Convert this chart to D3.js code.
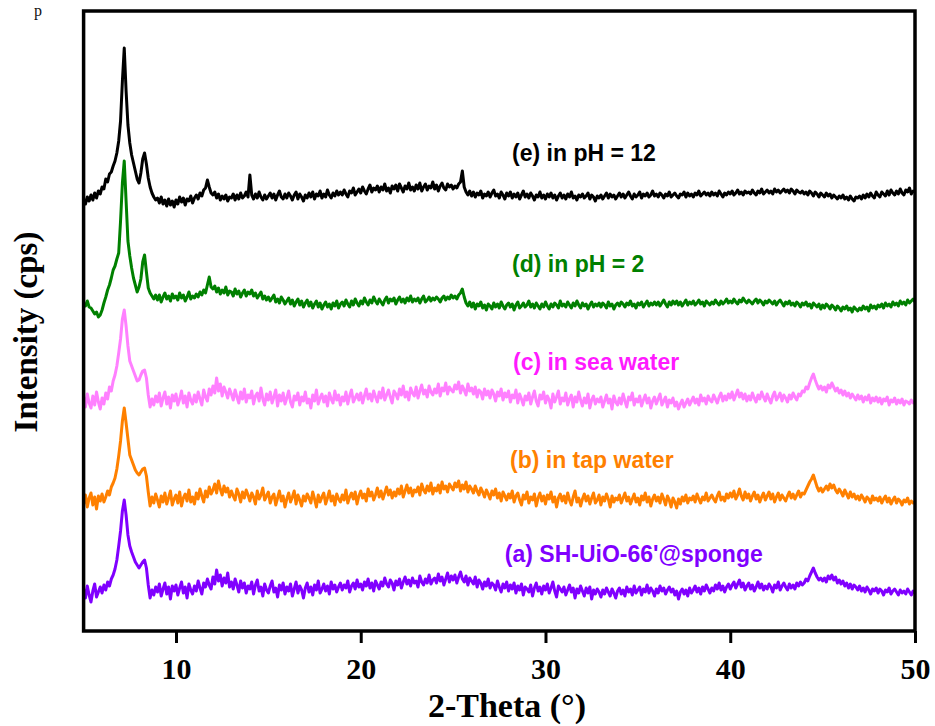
<!DOCTYPE html>
<html>
<head>
<meta charset="utf-8">
<script src="https://cdn.jsdelivr.net/npm/d3@7"></script>
<style>
  body { margin: 0; background: #fff; }
  svg { display: block; }
</style>
</head>
<body>
<svg id="chart" width="935" height="726"></svg>
<script>
// Scan grid: 2θ from 5.0° to 50.0° in 0.1° steps (451 points per pattern)
const thetaStart = 5.0;
const thetaStep = 0.1;
const xTicks = [10, 20, 30, 40, 50];

const seriesLabels = ["(a) SH-UiO-66'@sponge", "(b) in tap water", "(c) in sea water", "(d) in pH = 2", "(e) in pH = 12"];
// vertical stacking offset of each pattern (same units as intensity)
const seriesOffsets = [30, 120, 220, 320, 430];

// (a) SH-UiO-66'@sponge
const intensityA = [
  12, 3, 15, 6, -1, 10, 17, 4, 9, 14,
  8, 16, 11, 19, 15, 22, 26, 32, 41, 55,
  70, 90, 101, 86, 66, 55, 49, 44, 39, 36,
  33, 36, 39, 41, 33, 16, 3, 11, 6, 14,
  9, 17, 5, 12, 18, 7, 14, 2, 15, 10,
  16, 6, 13, 19, 8, 14, 3, 17, 11, 7,
  15, 10, 20, 13, 7, 18, 14, 22, 16, 12,
  24, 17, 31, 20, 26, 15, 23, 18, 28, 14,
  19, 12, 22, 16, 9, 20, 13, 18, 8, 15,
  12, 19, 7, 16, 21, 10, 14, 5, 17, 11,
  8, 15, 20, 9, 13, 4, 16, 11, 18, 7,
  14, 10, 17, 5, 12, 19, 8, 15, 11, 3,
  13, 18, 9, 14, 6, 16, 11, 20, 8, 12,
  17, 10, 15, 7, 19, 12, 16, 9, 14, 18,
  11, 16, 13, 20, 9, 15, 18, 12, 21, 14,
  17, 11, 19, 15, 22, 13, 18, 10, 20, 16,
  12, 19, 15, 23, 17, 14, 21, 18, 11, 20,
  16, 22, 13, 19, 24, 17, 21, 15, 23, 18,
  20, 14, 25, 19, 16, 22, 18, 26, 17, 21,
  23, 18, 27, 20, 24, 16, 22, 28, 19, 25,
  21, 26, 18, 24, 29, 22, 19, 25, 16, 23,
  20, 17, 24, 14, 21, 18, 12, 19, 15, 22,
  13, 18, 16, 11, 20, 14, 9, 17, 13, 19,
  10, 16, 12, 18, 8, 15, 11, 17, 6, 14,
  12, 9, 16, 5, 13, 18, 10, 14, 7, 15,
  11, 17, 8, 13, 19, 10, 4, 15, 12, 9,
  14, 6, 11, 16, 9, 13, 3, 12, 8, 15,
  10, 5, 13, 8, 14, 2, 11, 7, 12, 9,
  4, 11, 7, 13, 9, 5, 12, 8, 3, 10,
  13, 7, 11, 5, 14, 9, 12, 6, 15, 8,
  11, 14, 6, 12, 9, 16, 8, 13, 10, 5,
  12, 8, 15, 10, 13, 7, 11, 14, 9, 12,
  6, 10, 2, 9, 12, 7, 11, 5, 13, 8,
  11, 15, 9, 13, 7, 14, 10, 16, 12, 8,
  13, 10, 16, 12, 18, 11, 15, 9, 14, 17,
  12, 16, 19, 13, 17, 21, 14, 18, 11, 15,
  18, 12, 16, 10, 14, 19, 13, 17, 11, 15,
  12, 17, 14, 9, 16, 13, 19, 11, 15, 18,
  14, 11, 17, 13, 16, 12, 18, 15, 19, 16,
  18, 22, 20, 25, 29, 33, 28, 24, 21, 23,
  20, 23, 19, 25, 22, 26, 21, 24, 18, 21,
  17, 20, 15, 18, 13, 17, 12, 16, 14, 11,
  15, 10, 13, 9, 14, 11, 7, 12, 10, 13,
  8, 12, 10, 6, 11, 9, 13, 7, 10, 12,
  9, 6, 11, 8, 10, 7, 12, 9, 6, 10,
  8
];

// (b) in tap water
const intensityB = [
  7, 16, 4, 13, 18, 6, 14, 2, 15, 10,
  17, 9, 14, 20, 16, 24, 28, 33, 42, 55,
  70, 90, 103, 88, 72, 56, 51, 46, 41, 38,
  36, 39, 42, 43, 35, 19, 5, 14, 8, 17,
  11, 4, 15, 9, 18, 7, 13, 20, 6, 12,
  16, 8, 19, 5, 13, 17, 10, 21, 9, 14,
  7, 18, 12, 22, 15, 9, 20, 14, 24, 17,
  21, 27, 18, 30, 22, 16, 25, 19, 23, 14,
  20, 15, 11, 22, 17, 9, 19, 13, 21, 16,
  10, 18, 14, 7, 20, 12, 16, 23, 11, 15,
  19, 8, 14, 17, 6, 13, 20, 10, 15, 4,
  12, 18, 9, 14, 20, 7, 16, 11, 5, 15,
  10, 17, 13, 8, 19, 12, 4, 16, 9, 14,
  18, 7, 13, 20, 10, 15, 6, 17, 12, 9,
  16, 11, 21, 8, 14, 18, 12, 19, 7, 15,
  20, 13, 17, 10, 22, 15, 19, 11, 16, 23,
  14, 20, 12, 18, 24, 16, 21, 13, 19, 15,
  22, 17, 25, 14, 20, 26, 18, 23, 15, 21,
  19, 24, 16, 27, 21, 18, 25, 20, 28, 17,
  23, 20, 26, 18, 29, 22, 25, 19, 27, 24,
  21, 28, 24, 30, 20, 26, 22, 29, 19, 25,
  22, 18, 25, 20, 16, 23, 19, 14, 21, 17,
  12, 20, 16, 22, 13, 18, 10, 19, 15, 11,
  17, 13, 20, 9, 15, 18, 11, 6, 16, 12,
  19, 8, 14, 11, 17, 5, 13, 18, 10, 15,
  7, 16, 12, 19, 9, 14, 4, 13, 17, 10,
  15, 8, 18, 11, 6, 14, 20, 9, 13, 5,
  12, 17, 10, 15, 7, 13, 18, 8, 11, 16,
  6, 14, 10, 17, 12, 4, 15, 9, 13, 11,
  16, 8, 13, 18, 10, 14, 7, 12, 17, 9,
  13, 6, 15, 11, 18, 9, 14, 5, 12, 16,
  10, 14, 8, 17, 12, 6, 15, 11, 4, 13,
  9, 3, 12, 7, 14, 10, 16, 8, 13, 11,
  15, 9, 17, 12, 8, 14, 11, 18, 10, 13,
  16, 12, 9, 15, 19, 11, 14, 10, 17, 13,
  18, 14, 20, 12, 16, 22, 15, 11, 19, 13,
  17, 10, 15, 19, 12, 16, 9, 14, 18, 11,
  15, 19, 12, 17, 9, 14, 18, 11, 16, 13,
  10, 15, 19, 13, 17, 12, 16, 20, 14, 18,
  17, 21, 25, 29, 32, 36, 30, 24, 20, 23,
  19, 22, 25, 21, 27, 23, 26, 21, 18, 22,
  19, 15, 21, 17, 13, 19, 14, 17, 12, 15,
  11, 16, 13, 9, 14, 12, 8, 15, 11, 13,
  10, 14, 8, 12, 15, 9, 13, 7, 11, 14,
  8, 12, 10, 6, 11, 9, 13, 7, 10, 8,
  9
];

// (c) in sea water
const intensityC = [
  14, 4, 17, 8, 3, 15, 6, 19, 9, 2,
  13, 7, 18, 12, 24, 20, 30, 36, 45, 58,
  72, 92, 101, 85, 65, 50, 45, 40, 35, 30,
  31, 36, 40, 41, 33, 16, 4, 12, 6, 15,
  9, 18, 5, 13, 19, 7, 14, 3, 16, 10,
  17, 6, 12, 20, 8, 15, 4, 18, 11, 7,
  16, 9, 19, 12, 6, 21, 14, 10, 22, 16,
  25, 18, 33, 20, 27, 15, 24, 19, 13, 22,
  17, 11, 21, 14, 8, 19, 12, 22, 9, 16,
  13, 20, 7, 15, 18, 10, 23, 12, 6, 17,
  11, 19, 8, 14, 21, 5, 16, 10, 18, 7,
  13, 20, 9, 4, 15, 11, 18, 6, 14, 10,
  19, 8, 12, 3, 16, 10, 21, 7, 13, 17,
  9, 15, 5, 18, 12, 8, 20, 11, 16, 6,
  14, 10, 19, 7, 15, 21, 9, 13, 17, 11,
  18, 8, 15, 22, 12, 17, 10, 20, 14, 9,
  19, 13, 23, 11, 16, 21, 14, 8, 20, 17,
  12, 22, 16, 25, 14, 19, 11, 23, 18, 15,
  24, 13, 20, 26, 17, 21, 14, 25, 19, 16,
  22, 18, 27, 15, 23, 20, 28, 17, 24, 21,
  19, 26, 22, 29, 18, 25, 21, 16, 27, 20,
  23, 17, 24, 14, 21, 19, 12, 22, 16, 20,
  13, 21, 17, 10, 19, 15, 22, 11, 18, 14,
  20, 9, 16, 13, 21, 8, 17, 12, 6, 15,
  11, 18, 7, 14, 20, 10, 5, 16, 12, 19,
  8, 15, 11, 3, 17, 9, 14, 20, 7, 13,
  10, 18, 6, 12, 16, 4, 14, 9, 19, 11,
  5, 13, 8, 17, 3, 11, 15, 7, 12, 9,
  14, 4, 10, 16, 8, 12, 2, 15, 9, 6,
  13, 7, 17, 10, 4, 14, 11, 18, 6, 12,
  9, 15, 5, 11, 16, 8, 13, 3, 10, 14,
  7, 12, 17, 6, 10, 14, 4, 11, 8, 13,
  5, 9, 2, 7, 11, 4, 8, 12, 6, 10,
  14, 8, 12, 6, 16, 10, 13, 7, 15, 11,
  9, 16, 12, 8, 14, 18, 10, 15, 11, 17,
  13, 19, 11, 16, 21, 14, 18, 12, 17, 10,
  15, 11, 18, 13, 9, 16, 12, 19, 14, 10,
  17, 12, 8, 15, 19, 11, 14, 18, 10, 16,
  13, 9, 16, 12, 18, 14, 11, 17, 15, 20,
  19, 24, 22, 28, 33, 37, 31, 26, 22, 25,
  21, 24, 19, 26, 23, 28, 24, 20, 23, 18,
  21, 16, 20, 15, 18, 13, 17, 14, 11, 16,
  12, 15, 9, 14, 11, 16, 8, 13, 10, 14,
  9, 13, 7, 12, 10, 14, 6, 11, 9, 13,
  7, 11, 8, 12, 6, 10, 9, 7, 11, 8,
  9
];

// (d) in pH = 2
const intensityD = [
  8, 5, 10, 4, 3, 0, -3, -1, -6, -4,
  1, 8, 14, 21, 26, 33, 41, 45, 52, 58,
  90, 128, 150, 110, 70, 55, 43, 33, 26, 19,
  24, 32, 49, 56, 39, 23, 18, 15, 12, 16,
  11, 16, 9, 14, 18, 12, 15, 10, 17, 13,
  15, 11, 18, 13, 16, 10, 14, 19, 12, 15,
  13, 17, 14, 19, 16, 21, 18, 26, 34, 24,
  22, 25, 19, 23, 17, 21, 18, 24, 16, 20,
  19, 15, 22, 17, 20, 14, 18, 21, 15, 19,
  17, 21, 15, 18, 13, 16, 19, 12, 15, 11,
  14, 10, 13, 16, 9, 12, 8, 14, 11, 7,
  10, 13, 7, 11, 5, 9, 12, 6, 10, 4,
  8, 11, 5, 9, 3, 7, 10, 4, 8, 2,
  6, 9, 4, 7, 2, 8, 5, 10, 3, 7,
  9, 5, 11, 7, 4, 10, 6, 12, 8, 5,
  10, 7, 13, 9, 6, 11, 8, 14, 10, 7,
  12, 9, 6, 11, 14, 8, 12, 10, 13, 7,
  11, 14, 9, 12, 8, 13, 10, 15, 9, 12,
  10, 13, 8, 12, 15, 9, 11, 14, 10, 13,
  11, 14, 12, 9, 13, 15, 11, 14, 12, 16,
  13, 15, 12, 16, 18, 22, 14, 8, 5, 9,
  4, 8, 2, 7, 5, 9, 3, 6, 1, 7,
  5, 2, 8, 4, 7, 3, 9, 5, 2, 6,
  8, 4, 7, 1, 6, 9, 3, 5, 8, 4,
  6, 10, 4, 7, 3, 8, 5, 2, 7, 4,
  9, 5, 2, 7, 4, 8, 6, 3, 10, 5,
  7, 4, 9, 6, 3, 8, 5, 10, 6, 3,
  8, 5, 7, 2, 6, 9, 4, 7, 5, 8,
  4, 8, 6, 3, 9, 5, 7, 2, 6, 8,
  5, 9, 7, 4, 8, 6, 10, 5, 7, 3,
  8, 6, 9, 4, 7, 10, 5, 8, 6, 9,
  6, 9, 5, 8, 11, 7, 4, 9, 6, 10,
  7, 10, 6, 9, 5, 8, 11, 6, 9, 7,
  10, 6, 8, 11, 7, 9, 5, 10, 8, 6,
  9, 7, 11, 8, 6, 10, 7, 9, 12, 8,
  10, 8, 12, 9, 7, 11, 9, 13, 10, 8,
  11, 9, 7, 10, 12, 8, 11, 9, 6, 10,
  8, 11, 9, 7, 10, 6, 9, 11, 8, 5,
  9, 7, 10, 6, 8, 5, 9, 7, 4, 8,
  6, 9, 5, 7, 3, 8, 6, 4, 7, 2,
  6, 3, 7, 5, 2, 6, 4, 1, 5, 3,
  0, 4, 2, 5, 1, 3, -1, 4, 2, 0,
  3, 1, 5, 2, 4, 0, 6, 3, 5, 2,
  6, 4, 7, 3, 8, 5, 7, 4, 9, 6,
  8, 5, 10, 7, 9, 6, 11, 8, 10, 12,
  9
];

// (e) in pH = 12
const intensityE = [
  2, -3, 4, 0, 6, 1, 8, 3, 10, 7,
  14, 12, 22, 19, 27, 29, 35, 40, 48, 60,
  80, 120, 153, 110, 76, 58, 46, 38, 30, 22,
  18, 28, 42, 48, 37, 23, 14, 8, 4, 1,
  3, -2, 4, -3, 1, -5, 2, -4, 0, -6,
  1, -3, 4, -1, 3, -4, 2, 0, 5, -2,
  3, 6, 2, 8, 5, 11, 13, 21, 14, 8,
  6, 9, 3, 7, 1, 5, 2, 6, 0, 4,
  3, 7, 1, 6, 2, 8, 3, 5, 9, 4,
  26, 6, 2, 7, 3, 9, 4, 1, 6, 2,
  5, 8, 3, 7, 1, 6, 10, 4, 2, 7,
  3, 8, 5, 1, 6, 9, 2, 7, 4, 0,
  6, 3, 8, 4, 9, 2, 7, 5, 10, 3,
  7, 4, 11, 6, 3, 8, 5, 10, 6, 9,
  6, 11, 7, 4, 10, 8, 13, 6, 9, 12,
  8, 14, 10, 7, 12, 16, 9, 13, 11, 15,
  9, 14, 11, 17, 10, 13, 8, 15, 12, 16,
  10, 17, 13, 9, 15, 12, 18, 11, 14, 10,
  16, 12, 18, 10, 14, 17, 11, 15, 13, 19,
  12, 16, 10, 15, 18, 13, 11, 17, 14, 16,
  12, 15, 13, 17, 19, 30, 14, 9, 6, 10,
  5, 9, 4, 8, 6, 10, 3, 7, 5, 9,
  4, 8, 11, 5, 7, 3, 9, 6, 2, 8,
  5, 9, 3, 7, 4, 8, 2, 6, 10, 4,
  7, 3, 8, 5, 1, 6, 4, 9, 3, 6,
  2, 7, 4, 8, 3, 6, 1, 5, 8, 3,
  6, 2, 7, 4, 9, 3, 5, 1, 6, 4,
  7, 3, 5, 8, 2, 6, 4, 0, 5, 3,
  6, 2, 5, 8, 3, 7, 4, 6, 2, 5,
  8, 4, 7, 3, 6, 9, 5, 2, 7, 4,
  6, 9, 3, 7, 5, 8, 4, 6, 10, 5,
  7, 4, 8, 6, 3, 7, 5, 9, 4, 6,
  8, 5, 3, 7, 6, 9, 4, 8, 5, 7,
  4, 8, 6, 10, 5, 7, 9, 6, 8, 5,
  9, 6, 8, 5, 10, 7, 4, 8, 6, 9,
  7, 10, 6, 8, 11, 7, 9, 6, 10, 8,
  9, 7, 11, 8, 6, 10, 8, 12, 7, 9,
  11, 8, 10, 7, 12, 9, 11, 8, 10, 12,
  9, 11, 8, 12, 10, 7, 11, 9, 8, 10,
  7, 9, 6, 10, 8, 5, 9, 7, 4, 8,
  6, 4, 8, 5, 7, 3, 6, 4, 2, 5,
  3, 6, 2, 4, 1, 5, 2, 0, 4, 3,
  5, 2, 6, 3, 7, 4, 8, 5, 3, 9,
  6, 4, 9, 7, 5, 10, 6, 11, 8, 6,
  10, 7, 12, 8, 6, 11, 9, 13, 7, 10,
  9
];

const seriesValues = [intensityA, intensityB, intensityC, intensityD, intensityE];
const lineColors = ["#8000ff", "#ff8000", "#ff80ff", "#008000", "#000000"];
const labelColors = ["#8000ff", "#ff8000", "#ff1aff", "#008000", "#000000"];
// label anchors: [2θ of text start, stacked intensity of baseline]
const labelAnchors = [[27.8, 69], [28.08, 163], [28.24, 261], [28.19, 359], [28.19, 470]];

const plot = { left: 83.6, right: 915, top: 11, bottom: 631 };

const svg = d3.select("#chart");

const x = d3.scaleLinear().domain([5, 50]).range([plot.left, plot.right]);
const y = d3.scaleLinear().domain([0, 620]).range([plot.bottom, plot.top]);

svg.append("defs").append("clipPath").attr("id", "plot-clip")
  .append("rect")
  .attr("x", plot.left).attr("y", plot.top)
  .attr("width", plot.right - plot.left).attr("height", plot.bottom - plot.top);

// stray caption fragment at the top-left corner
svg.append("text")
  .attr("x", 34).attr("y", 16)
  .attr("font-family", "'Liberation Serif', 'Times New Roman', serif")
  .attr("font-size", 16)
  .attr("fill", "#111")
  .text("p");

// diffraction patterns
const patterns = svg.append("g").attr("clip-path", "url(#plot-clip)");
seriesValues.forEach((vals, k) => {
  const line = d3.line()
    .x((d, i) => x(thetaStart + i * thetaStep))
    .y(d => y(d + seriesOffsets[k]));
  patterns.append("path")
    .datum(vals)
    .attr("fill", "none")
    .attr("stroke", lineColors[k])
    .attr("stroke-width", 3)
    .attr("stroke-linejoin", "round")
    .attr("d", line);
});

// pattern labels
seriesLabels.forEach((label, k) => {
  svg.append("text")
    .attr("x", x(labelAnchors[k][0]))
    .attr("y", y(labelAnchors[k][1]))
    .attr("font-family", "'Liberation Sans', Arial, sans-serif")
    .attr("font-weight", "bold")
    .attr("font-size", 23)
    .attr("fill", labelColors[k])
    .text(label);
});

// bottom axis
const xAxis = svg.append("g")
  .attr("transform", `translate(0,${plot.bottom})`)
  .call(d3.axisBottom(x).tickValues(xTicks).tickSize(12).tickSizeOuter(0).tickPadding(15).tickFormat(d3.format("d")));
xAxis.select(".domain").remove();
xAxis.selectAll(".tick line").attr("stroke", "#000").attr("stroke-width", 3);
xAxis.selectAll(".tick text")
  .attr("fill", "#000")
  .attr("font-family", "'Liberation Serif', 'Times New Roman', serif")
  .attr("font-weight", "bold")
  .attr("font-size", 30);

// plot frame
svg.append("rect")
  .attr("x", plot.left).attr("y", plot.top)
  .attr("width", plot.right - plot.left).attr("height", plot.bottom - plot.top)
  .attr("fill", "none")
  .attr("stroke", "#000")
  .attr("stroke-width", 3.5);

// axis titles
svg.append("text")
  .attr("x", 507).attr("y", 717)
  .attr("text-anchor", "middle")
  .attr("font-family", "'Liberation Serif', 'Times New Roman', serif")
  .attr("font-weight", "bold")
  .attr("font-size", 34)
  .attr("fill", "#000")
  .text("2-Theta (°)");

svg.append("text")
  .attr("transform", "translate(37,332) rotate(-90)")
  .attr("text-anchor", "middle")
  .attr("font-family", "'Liberation Serif', 'Times New Roman', serif")
  .attr("font-weight", "bold")
  .attr("font-size", 33)
  .attr("fill", "#000")
  .text("Intensity (cps)");
</script>
</body>
</html>
